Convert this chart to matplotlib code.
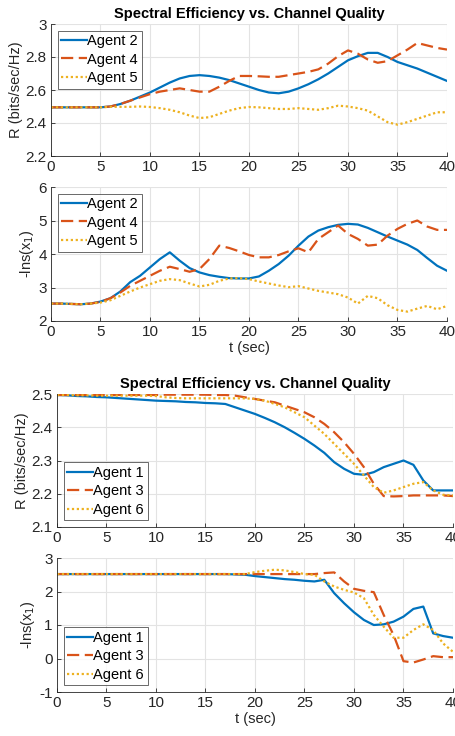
import matplotlib
matplotlib.use("Agg")
import matplotlib.pyplot as plt
import numpy as np

plt.rcParams['font.family'] = ['Liberation Sans', 'DejaVu Sans']

t = list(range(41))

# Panel 1: R for Agents 2, 4, 5
r_agent2 = [2.495,2.495,2.495,2.495,2.495,2.495,2.50,2.515,2.535,2.56,2.585,2.615,2.645,2.67,2.685,2.69,
            2.685,2.675,2.66,2.64,2.62,2.60,2.585,2.58,2.59,2.61,2.635,2.665,2.70,2.74,2.78,2.805,2.825,2.825,
            2.80,2.77,2.75,2.73,2.705,2.68,2.655]
r_agent4 = [2.495,2.495,2.495,2.495,2.495,2.495,2.50,2.515,2.535,2.555,2.575,2.59,2.60,2.61,2.60,2.59,
            2.59,2.62,2.655,2.685,2.685,2.683,2.68,2.68,2.69,2.70,2.71,2.725,2.76,2.805,2.84,2.82,2.785,2.765,
            2.775,2.81,2.845,2.885,2.87,2.855,2.845]
r_agent5 = [2.495,2.495,2.495,2.495,2.495,2.495,2.498,2.498,2.498,2.50,2.497,2.49,2.48,2.465,2.445,2.43,
            2.435,2.455,2.475,2.49,2.497,2.495,2.49,2.485,2.485,2.49,2.485,2.48,2.49,2.505,2.50,2.49,2.475,2.44,
            2.405,2.39,2.405,2.425,2.445,2.465,2.465]

# Panel 2: -lns(x1) for Agents 2, 4, 5
l_agent2 = [2.52,2.52,2.51,2.50,2.52,2.58,2.68,2.88,3.16,3.35,3.6,3.85,4.05,3.8,3.58,3.45,3.37,3.32,3.28,
            3.27,3.27,3.33,3.5,3.7,3.95,4.25,4.52,4.7,4.8,4.87,4.9,4.88,4.78,4.65,4.52,4.4,4.28,4.12,3.88,3.65,3.5]
l_agent4 = [2.52,2.52,2.51,2.50,2.52,2.57,2.68,2.85,3.05,3.2,3.35,3.5,3.62,3.55,3.47,3.55,3.85,4.25,4.18,
            4.08,3.97,3.9,3.9,3.97,4.08,4.17,4.05,4.45,4.65,4.85,4.6,4.45,4.25,4.28,4.55,4.75,4.9,5.0,4.82,4.72,4.72]
l_agent5 = [2.52,2.52,2.51,2.50,2.52,2.55,2.62,2.75,2.88,3.0,3.1,3.2,3.25,3.22,3.12,3.03,3.08,3.2,3.27,
            3.28,3.25,3.18,3.12,3.06,3.01,3.04,2.97,2.9,2.85,2.8,2.7,2.52,2.75,2.68,2.47,2.33,2.28,2.37,2.45,2.35,2.45]

# Panel 3: R for Agents 1, 3, 6
r_agent1 = [2.497,2.496,2.494,2.493,2.491,2.49,2.488,2.486,2.484,2.482,2.48,2.479,2.478,2.476,2.475,2.473,
            2.472,2.47,2.46,2.45,2.44,2.428,2.415,2.40,2.383,2.365,2.345,2.323,2.295,2.275,2.26,2.257,2.265,
            2.28,2.29,2.30,2.287,2.24,2.21,2.21,2.21]
r_agent3 = [2.497,2.497,2.497,2.497,2.497,2.497,2.497,2.497,2.497,2.497,2.497,2.498,2.498,2.498,2.498,2.498,
            2.497,2.497,2.495,2.49,2.485,2.48,2.475,2.465,2.455,2.445,2.43,2.41,2.385,2.355,2.32,2.28,2.23,
            2.193,2.192,2.193,2.195,2.195,2.195,2.195,2.193]
r_agent6 = [2.497,2.497,2.496,2.496,2.495,2.495,2.495,2.495,2.495,2.495,2.494,2.49,2.488,2.487,2.487,2.487,
            2.487,2.487,2.487,2.487,2.485,2.48,2.47,2.46,2.445,2.43,2.405,2.38,2.35,2.32,2.29,2.255,2.22,
            2.203,2.21,2.22,2.23,2.235,2.21,2.197,2.195]

# Panel 4: -lns(x1) for Agents 1, 3, 6
l_agent1 = [2.52]*18 + [2.51,2.50,2.46,2.43,2.40,2.37,2.35,2.32,2.30,2.35,1.95,1.65,1.38,1.15,1.0,1.02,1.1,
            1.25,1.48,1.55,0.75,0.67,0.62]
l_agent3 = [2.52]*27 + [2.55,2.57,2.3,2.08,2.02,1.98,1.3,0.7,-0.08,-0.12,-0.03,0.07,0.04,0.04]
l_agent6 = [2.52]*20 + [2.58,2.62,2.65,2.63,2.58,2.52,2.50,2.30,2.15,2.05,1.97,1.8,1.3,0.95,0.62,0.62,
            0.85,1.02,0.85,0.45,0.2]

title = "Spectral Efficiency vs. Channel Quality"
yticks_r1 = ['2.2', '2.4', '2.6', '2.8', '3']
yticks_l1 = ['2', '3', '4', '5', '6']
yticks_r2 = ['2.1', '2.2', '2.3', '2.4', '2.5']
yticks_l2 = ['-1', '0', '1', '2', '3']

colors = ['#0072BD', '#D95319', '#EDB120']
styles = ['-', (0, (5.5, 2.5)), (0, (1, 1.2))]

fig = plt.figure(figsize=(4.56, 7.36), dpi=100)
W, H = 456, 736
def pos(l, r, t_, b):
    return [l/W, 1-b/H, (r-l)/W, (b-t_)/H]

axes = [fig.add_axes(pos(51, 447, 24, 156)),
        fig.add_axes(pos(51, 447, 187, 321)),
        fig.add_axes(pos(57, 453, 394, 527)),
        fig.add_axes(pos(57, 453, 558, 692))]

panels = [
    ([r_agent2, r_agent4, r_agent5], ['Agent 2', 'Agent 4', 'Agent 5'], (2.2, 3), yticks_r1, 'R (bits/sec/Hz)', 'upper left', True, False),
    ([l_agent2, l_agent4, l_agent5], ['Agent 2', 'Agent 4', 'Agent 5'], (2, 6), yticks_l1, '-lns(x$_1$)', 'upper left', False, True),
    ([r_agent1, r_agent3, r_agent6], ['Agent 1', 'Agent 3', 'Agent 6'], (2.1, 2.5), yticks_r2, 'R (bits/sec/Hz)', 'lower left', True, False),
    ([l_agent1, l_agent3, l_agent6], ['Agent 1', 'Agent 3', 'Agent 6'], (-1, 3), yticks_l2, '-lns(x$_1$)', 'lower left', False, True),
]

for ax, (series, labels, ylim, ytl, ylab, loc, has_title, has_xlab) in zip(axes, panels):
    for s, lab, c, ls in zip(series, labels, colors, styles):
        ax.plot(t, s, color=c, linestyle=ls, linewidth=1.6, label=lab)
    ax.set_xlim(0, 40)
    ax.set_ylim(*ylim)
    ax.set_xticks(np.arange(0, 41, 5))
    ax.set_yticks([float(v) for v in ytl])
    ax.set_yticklabels(ytl)
    ax.grid(True, color='#e3e3e3', linewidth=0.8)
    ax.set_axisbelow(True)
    ax.tick_params(direction='in', length=3, labelsize=11, colors='#262626', width=0.6,
                   top=False, right=False, pad=3)
    for sp in ax.spines.values():
        sp.set_color('#262626')
        sp.set_linewidth(0.6)
    ax.spines['top'].set_visible(False)
    ax.spines['right'].set_visible(False)
    ax.set_ylabel(ylab, fontsize=10.5, color='#262626', labelpad=2)
    if has_title:
        ax.set_title(title, fontsize=10.5, fontweight='bold', color='black', pad=4)
    if has_xlab:
        ax.set_xlabel('t (sec)', fontsize=10.5, color='#262626', labelpad=1)
    leg = ax.legend(loc=loc, fontsize=10.5, frameon=True, fancybox=False, edgecolor='#262626',
                    borderpad=0.25, labelspacing=0.3, handlelength=1.75, handletextpad=0.05,
                    borderaxespad=0.45)
    leg.get_frame().set_linewidth(0.6)

fig.savefig('out.png', dpi=100)
